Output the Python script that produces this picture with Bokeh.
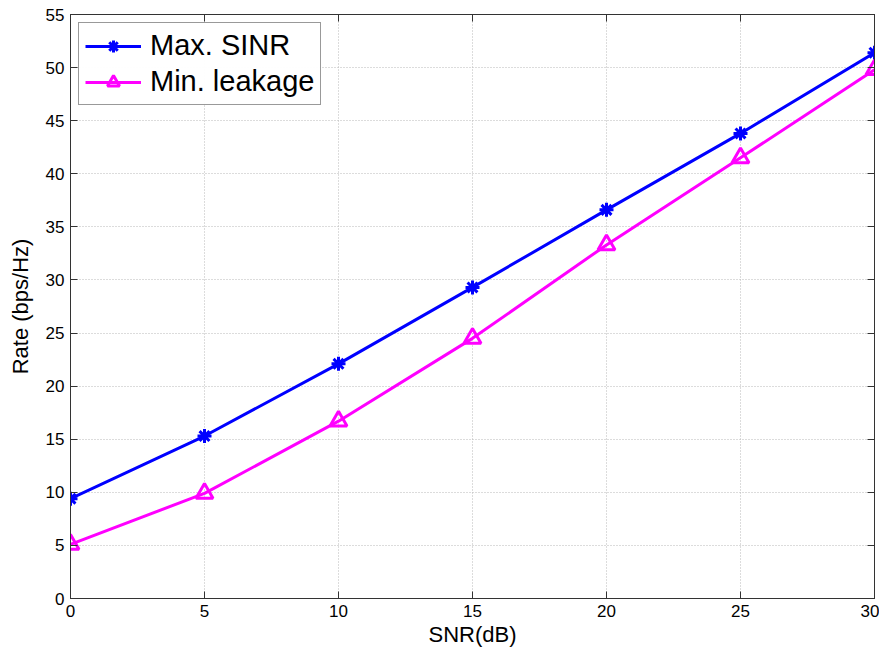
from bokeh.plotting import figure
from bokeh.models import LinearAxis, Legend, LegendItem, Range1d, FixedTicker
from bokeh.embed import file_html
from bokeh.resources import INLINE

snr = [0, 5, 10, 15, 20, 25, 30]
max_sinr = [9.4, 15.3, 22.1, 29.3, 36.6, 43.8, 51.4]
min_leak = [5.1, 9.9, 16.7, 24.5, 33.3, 41.5, 49.8]
x_ticks = [0, 5, 10, 15, 20, 25, 30]
y_ticks = [0, 5, 10, 15, 20, 25, 30, 35, 40, 45, 50, 55]

FONT = "Liberation Sans"

p = figure(width=879, height=649, output_backend="svg", toolbar_location=None,
           x_range=Range1d(0, 30), y_range=Range1d(0, 55),
           min_border_left=70, min_border_right=5, min_border_top=14, min_border_bottom=50)

p.background_fill_color = "white"
p.outline_line_color = "#333333"
p.outline_line_width = 1

for ax in (p.xaxis[0], p.yaxis[0]):
    ax.major_tick_in = 7
    ax.major_tick_out = 0
    ax.minor_tick_in = 0
    ax.minor_tick_out = 0
    ax.axis_line_color = "#333333"
    ax.major_tick_line_color = "#333333"
    ax.major_label_text_font = FONT
    ax.major_label_text_font_size = "17px"
    ax.major_label_text_color = "black"
    ax.axis_label_text_font = FONT
    ax.axis_label_text_font_size = "22px"
    ax.axis_label_text_font_style = "normal"
    ax.axis_label_text_color = "black"

p.xaxis[0].ticker = FixedTicker(ticks=x_ticks)
p.yaxis[0].ticker = FixedTicker(ticks=y_ticks)
p.xaxis[0].axis_label = "SNR(dB)"
p.yaxis[0].axis_label = "Rate (bps/Hz)"
p.xaxis[0].axis_label_standoff = 2
p.yaxis[0].axis_label_standoff = 10
p.xaxis[0].major_label_standoff = 6
p.yaxis[0].major_label_standoff = 6

for loc, ticks in (("above", x_ticks), ("right", y_ticks)):
    ax = LinearAxis(ticker=FixedTicker(ticks=ticks), major_tick_in=7, major_tick_out=0,
                    minor_tick_in=0, minor_tick_out=0,
                    major_label_overrides={t: "" for t in ticks},
                    axis_line_color="#333333", major_tick_line_color="#333333",
                    major_label_standoff=0)
    p.add_layout(ax, loc)

p.xgrid.ticker = FixedTicker(ticks=x_ticks)
p.ygrid.ticker = FixedTicker(ticks=y_ticks)
p.grid.grid_line_color = "#b8b8b8"
p.grid.grid_line_dash = "1 2"
p.grid.grid_line_width = 1

l1 = p.line(snr, max_sinr, line_color="#0000ff", line_width=3)
s1 = p.scatter(snr, max_sinr, marker="asterisk", size=14, line_color="#0000ff", line_width=3)
l2 = p.line(snr, min_leak, line_color="#ff00ff", line_width=3)
s2 = p.scatter(snr, min_leak, marker="triangle", size=17, fill_color=None,
               line_color="#ff00ff", line_width=3)

legend = Legend(items=[LegendItem(label="Max. SINR", renderers=[l1, s1]),
                       LegendItem(label="Min. leakage", renderers=[l2, s2])],
                location="top_left")
legend.label_text_font = FONT
legend.label_text_font_size = "29px"
legend.label_text_color = "black"
legend.glyph_width = 56
legend.glyph_height = 30
legend.label_height = 30
legend.spacing = 3
legend.padding = 6
legend.margin = 8
legend.border_line_color = "#333333"
legend.border_line_width = 1
legend.label_standoff = 9
p.add_layout(legend)

open("out.html", "w").write(file_html(p, INLINE))
